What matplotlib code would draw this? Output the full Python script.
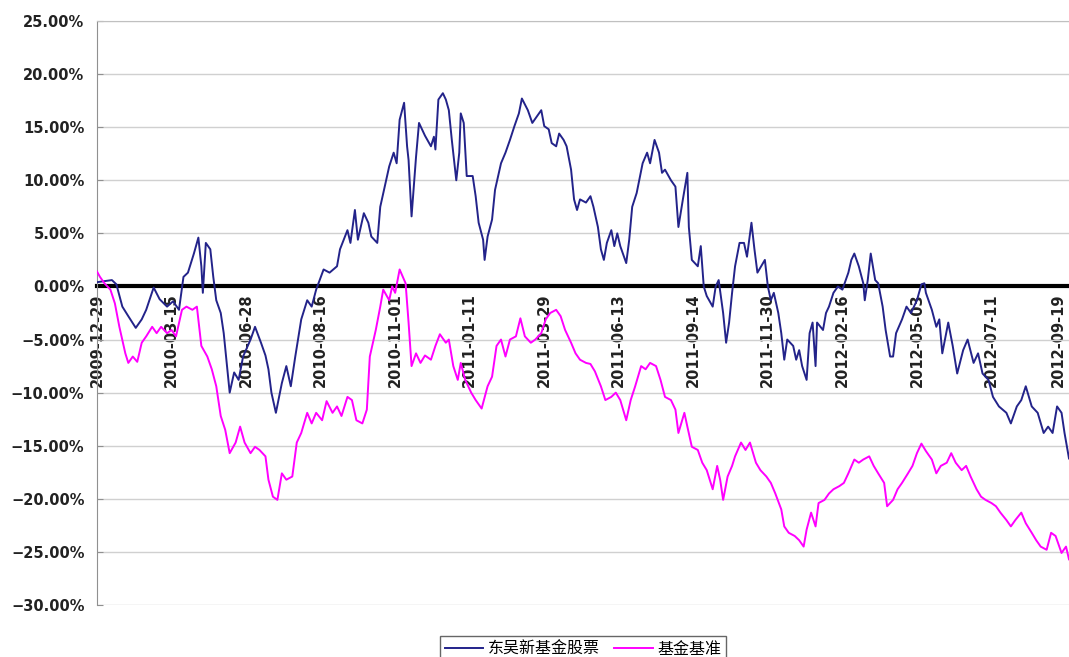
import matplotlib
matplotlib.use("Agg")
import matplotlib.pyplot as plt
from matplotlib.ticker import PercentFormatter, MultipleLocator

# trading-day index and cumulative return (%) of 东吴新基金股票
fund_day = [0, 5, 10, 13, 17, 21, 26, 30, 33, 38, 42, 47, 51, 55, 58, 61, 65, 68, 70, 71,
            73, 76, 78, 80, 83, 85, 87, 89, 92, 95, 98, 103, 106, 110, 113, 115, 117, 120, 124, 127,
            130, 133, 137, 141, 144, 147, 152, 156, 161, 163, 168, 170, 173, 175, 179, 182, 184, 188, 190, 193,
            196, 199, 201, 203, 206, 208, 209, 211, 214, 216, 220, 224, 226, 227, 229, 232, 234, 236, 238, 241,
            243, 244, 246, 248, 252, 254, 256, 259, 260, 262, 265, 267, 271, 274, 277, 280, 283, 285, 289, 292,
            295, 298, 300, 303, 305, 308, 310, 313, 315, 318, 320, 322, 324, 328, 331, 333, 336, 338, 340, 342,
            345, 347, 349, 351, 355, 357, 359, 362, 366, 369, 371, 374, 377, 379, 381, 385, 388, 390, 393, 396,
            397, 399, 403, 405, 407, 409, 413, 415, 417, 420, 422, 424, 426, 428, 431, 434, 436, 439, 441, 443,
            448, 450, 452, 454, 457, 459, 461, 463, 467, 469, 471, 473, 476, 478, 480, 482, 483, 487, 489, 491,
            494, 497, 500, 504, 506, 508, 511, 514, 515, 517, 519, 522, 524, 527, 529, 532, 534, 536, 540, 543,
            546, 550, 553, 555, 556, 560, 563, 565, 567, 571, 574, 577, 581, 584, 588, 591, 594, 598, 601, 605,
            610, 613, 617, 620, 623, 627, 631, 635, 638, 641, 644, 647, 649, 651, 652]
fund_ret = [0.4, 0.5, 0.6, 0.2, -1.9, -2.8, -3.9, -3.1, -2.2, -0.1, -1.2, -1.9, -1.4, -2.2, 0.9, 1.3, 3.1, 4.6, 1.9, -0.6,
            4.1, 3.5, 0.9, -1.3, -2.5, -4.4, -7.2, -10.0, -8.1, -8.8, -6.6, -5.0, -3.8, -5.3, -6.5, -7.8, -10.0, -11.9, -9.1, -7.5,
            -9.4, -6.6, -3.1, -1.3, -1.9, -0.3, 1.6, 1.3, 1.9, 3.5, 5.3, 4.1, 7.2, 4.4, 6.9, 6.0, 4.7, 4.1, 7.5, 9.4,
            11.3, 12.6, 11.6, 15.7, 17.3, 13.2, 11.9, 6.6, 12.2, 15.4, 14.2, 13.2, 14.1, 12.9, 17.6, 18.2, 17.6, 16.6, 13.8, 10.0,
            12.6, 16.3, 15.4, 10.4, 10.4, 8.5, 6.0, 4.4, 2.5, 4.7, 6.3, 9.1, 11.6, 12.6, 13.8, 15.1, 16.3, 17.7, 16.6, 15.4,
            16.0, 16.6, 15.1, 14.8, 13.5, 13.2, 14.4, 13.8, 13.2, 11.0, 8.2, 7.2, 8.2, 7.9, 8.5, 7.5, 5.6, 3.5, 2.5, 4.1,
            5.3, 3.8, 5.0, 3.8, 2.2, 4.4, 7.5, 8.8, 11.6, 12.6, 11.6, 13.8, 12.6, 10.7, 11.0, 10.0, 9.4, 5.6, 8.2, 10.7,
            5.6, 2.5, 1.9, 3.8, 0.0, -0.9, -1.9, 0.0, 0.6, -2.5, -5.3, -3.4, -0.6, 1.9, 4.1, 4.1, 2.8, 6.0, 3.5, 1.3,
            2.5, 0.0, -1.3, -0.6, -2.5, -4.4, -6.9, -5.0, -5.6, -6.9, -6.0, -7.5, -8.8, -4.4, -3.4, -7.5, -3.4, -4.1, -2.5, -1.9,
            -0.6, 0.0, -0.3, 1.3, 2.5, 3.1, 1.9, 0.3, -1.3, 0.6, 3.1, 0.6, 0.3, -1.9, -4.1, -6.6, -6.6, -4.4, -3.1, -1.9,
            -2.5, -1.3, 0.2, 0.3, -0.6, -2.2, -3.8, -3.1, -6.3, -3.4, -5.6, -8.2, -6.0, -5.0, -7.2, -6.3, -8.2, -8.8, -10.4, -11.3,
            -11.9, -12.9, -11.3, -10.7, -9.4, -11.3, -11.9, -13.8, -13.2, -13.8, -11.3, -11.9, -13.8, -15.4, -16.2]

# trading-day index and cumulative return (%) of 基金基准
bench_day = [0, 2, 5, 9, 12, 15, 19, 21, 24, 27, 30, 33, 37, 40, 43, 47, 50, 53, 57, 60,
             64, 67, 70, 74, 77, 80, 83, 86, 89, 93, 96, 99, 103, 106, 109, 113, 115, 118, 121, 124,
             127, 131, 134, 137, 141, 144, 147, 151, 154, 158, 161, 164, 168, 171, 174, 178, 181, 183, 187, 190,
             192, 196, 198, 200, 203, 207, 209, 211, 214, 217, 220, 224, 227, 230, 234, 236, 239, 242, 244, 247,
             251, 254, 258, 262, 265, 268, 271, 274, 277, 281, 284, 287, 291, 294, 298, 301, 304, 308, 311, 314,
             318, 321, 324, 328, 331, 334, 338, 341, 345, 348, 351, 355, 358, 361, 365, 368, 371, 375, 378, 381,
             385, 388, 390, 394, 396, 399, 403, 406, 409, 413, 416, 418, 420, 423, 426, 428, 432, 435, 438, 442,
             445, 449, 452, 455, 459, 461, 464, 468, 471, 474, 476, 479, 482, 484, 488, 491, 494, 498, 501, 504,
             508, 511, 514, 518, 521, 524, 528, 530, 534, 537, 540, 544, 547, 550, 553, 556, 560, 563, 566, 570,
             573, 576, 580, 583, 586, 590, 593, 596, 600, 603, 606, 610, 613, 616, 620, 623, 627, 630, 633, 637,
             640, 643, 647, 650, 652]
bench_ret = [1.4, 0.9, 0.3, -0.3, -1.6, -3.8, -6.3, -7.2, -6.6, -7.1, -5.3, -4.7, -3.8, -4.4, -3.8, -4.4, -4.1, -4.7, -2.2, -1.9,
             -2.2, -1.9, -5.6, -6.6, -7.8, -9.4, -12.2, -13.5, -15.7, -14.7, -13.2, -14.7, -15.7, -15.1, -15.4, -16.0, -18.2, -19.8, -20.1, -17.6,
             -18.2, -17.9, -14.7, -13.8, -11.9, -12.9, -11.9, -12.6, -10.8, -11.9, -11.3, -12.2, -10.4, -10.7, -12.6, -12.9, -11.6, -6.6, -4.1, -1.9,
             -0.3, -1.3, 0.0, -0.6, 1.6, 0.3, -3.4, -7.5, -6.3, -7.2, -6.5, -6.9, -5.6, -4.5, -5.3, -5.0, -7.5, -8.8, -7.2, -8.8,
             -10.0, -10.7, -11.5, -9.4, -8.5, -5.6, -5.0, -6.6, -5.0, -4.7, -3.0, -4.7, -5.3, -5.0, -4.4, -3.1, -2.5, -2.2, -2.8, -4.1,
             -5.3, -6.3, -6.9, -7.2, -7.3, -8.0, -9.4, -10.7, -10.4, -10.0, -10.7, -12.6, -10.7, -9.4, -7.5, -7.8, -7.2, -7.5, -8.8, -10.4,
             -10.7, -11.6, -13.8, -11.9, -13.2, -15.1, -15.4, -16.6, -17.3, -19.1, -16.9, -18.2, -20.1, -17.9, -16.9, -16.0, -14.7, -15.4, -14.7, -16.6,
             -17.3, -17.9, -18.5, -19.5, -21.0, -22.6, -23.2, -23.5, -23.9, -24.5, -22.9, -21.3, -22.6, -20.4, -20.1, -19.5, -19.1, -18.8, -18.5, -17.6,
             -16.3, -16.6, -16.3, -16.0, -16.9, -17.6, -18.5, -20.7, -20.1, -19.1, -18.5, -17.6, -16.9, -15.7, -14.8, -15.5, -16.3, -17.6, -16.9, -16.6,
             -15.7, -16.6, -17.3, -16.9, -17.9, -19.1, -19.8, -20.1, -20.4, -20.7, -21.3, -22.0, -22.6, -22.0, -21.3, -22.3, -23.2, -23.9, -24.5, -24.8,
             -23.2, -23.5, -25.1, -24.5, -25.7]

tick_days = [0, 50, 100, 150, 200, 250, 300, 350, 400, 450, 500, 550, 600, 650]
tick_labels = ["2009-12-29", "2010-03-15", "2010-06-28", "2010-08-16", "2010-11-01",
               "2011-01-11", "2011-03-29", "2011-06-13", "2011-09-14", "2011-11-30",
               "2012-02-16", "2012-05-03", "2012-07-11", "2012-09-19"]

fig = plt.figure(figsize=(10.69, 6.57), dpi=100)
ax = fig.add_axes([97 / 1069, 1 - 605 / 657, 1 - 97 / 1069, 584 / 657])

ax.plot(fund_day, fund_ret, color="#23238a", lw=1.4, label="东吴新基金股票", zorder=3)
ax.plot(bench_day, bench_ret, color="#ff00ff", lw=1.4, label="基金基准", zorder=3)

ax.set_xlim(0, 652)
ax.set_ylim(-30, 25)
ax.yaxis.set_major_locator(MultipleLocator(5))
ax.yaxis.set_major_formatter(PercentFormatter(decimals=2))
ax.grid(axis="y", color="#d0d0d0", lw=1)
ax.set_axisbelow(True)

# category axis crosses at zero
ax.spines["bottom"].set_position(("data", 0))
ax.spines["bottom"].set_color("black")
ax.spines["bottom"].set_linewidth(3)
ax.spines["bottom"].set_zorder(2)
ax.spines["right"].set_visible(False)
ax.spines["top"].set_color("#c0c0c0")
ax.spines["left"].set_color("#909090")

ax.set_xticks(tick_days)
ax.set_xticklabels(tick_labels, rotation=90, fontsize=10.5, fontweight="bold", color="#222222")
ax.get_xticklabels()[-1].set_horizontalalignment("right")
ax.tick_params(axis="x", length=0, pad=5)
ax.tick_params(axis="y", direction="in", length=4, color="#909090", labelsize=10.5, pad=9,
               labelcolor="#222222")
for t in ax.get_yticklabels():
    t.set_fontweight("bold")

fig.legend(loc="upper center", bbox_to_anchor=(583 / 1069, 1 - 628 / 657), ncol=2,
           frameon=True, fancybox=False, edgecolor="#404040", handlelength=2.4,
           columnspacing=0.9, handletextpad=0.3, borderpad=0.3,
           prop={"family": ["Noto Sans CJK SC", "DejaVu Sans"], "size": 11.5})

fig.savefig("out.png", dpi=100)
